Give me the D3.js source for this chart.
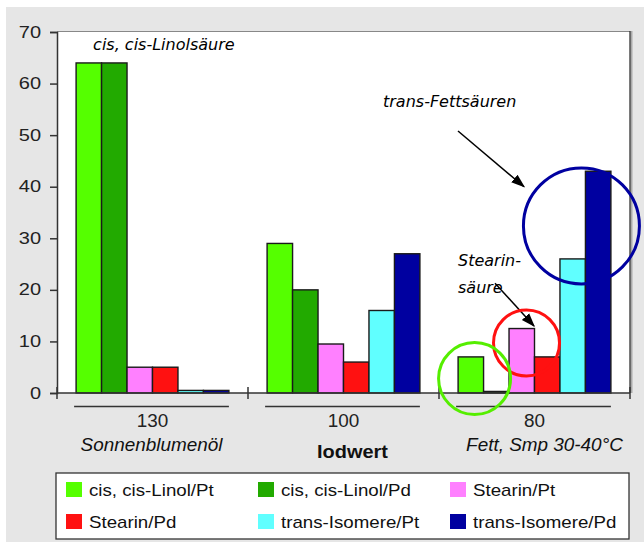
<!DOCTYPE html>
<html>
<head>
<meta charset="utf-8">
<script src="https://cdn.jsdelivr.net/npm/d3@7"></script>
<style>
  body { margin: 0; background: #fff; }
  text { font-family: "Liberation Sans", Arial, sans-serif; }
  .note { font-family: "Comic Sans MS", "DejaVu Sans", sans-serif; font-style: italic; }
</style>
</head>
<body>
<svg id="chart" width="644" height="542"></svg>
<script>
let categories = ['130', '100', '80'];
let subLabels = ['Sonnenblumenöl', 'Iodwert', 'Fett, Smp 30-40°C'];
let seriesNames = ['cis, cis-Linol/Pt', 'cis, cis-Linol/Pd', 'Stearin/Pt', 'Stearin/Pd', 'trans-Isomere/Pt', 'trans-Isomere/Pd'];
let seriesColors = ['#55ff00', '#22aa00', '#ff80ff', '#ff1111', '#60ffff', '#0000a0'];
let linolPt = [64, 29, 7];
let linolPd = [64, 20, 0.3];
let stearinPt = [5, 9.5, 12.5];
let stearinPd = [5, 6, 7];
let transPt = [0.5, 16, 26];
let transPd = [0.5, 27, 43];
let yTicks = [0, 10, 20, 30, 40, 50, 60, 70];

let seriesValues = [linolPt, linolPd, stearinPt, stearinPd, transPt, transPd];

let svg = d3.select('#chart');

// the original picture is a bit wider than the fonts here, so widen text a little
let stretch = (sel, k) => {
  sel.each(function () {
    let w = this.getComputedTextLength();
    d3.select(this).attr('textLength', w * k).attr('lengthAdjust', 'spacingAndGlyphs');
  });
};

// grey panel
svg.append('rect').attr('x', 6).attr('y', 7).attr('width', 638).attr('height', 535).attr('fill', '#e6e6e6');

let plotLeft = 57, plotRight = 630, plotTop = 32, plotBottom = 393;

let x = d3.scaleBand().domain(categories).range([plotLeft, plotRight]).paddingInner(0.2).paddingOuter(0.1);
let xs = d3.scaleBand().domain(seriesNames).range([0, x.bandwidth()]);
let y = d3.scaleLinear().domain([0, 70]).range([plotBottom, plotTop]);

// plot area
svg.append('rect').attr('x', plotLeft).attr('y', plotTop).attr('width', plotRight - plotLeft).attr('height', plotBottom - plotTop).attr('fill', '#fff');
svg.append('line').attr('x1', plotLeft).attr('x2', plotRight).attr('y1', plotTop - 0.5).attr('y2', plotTop - 0.5).attr('stroke', '#888').attr('stroke-width', 1.2);
svg.append('line').attr('x1', plotRight + 1.5).attr('x2', plotRight + 1.5).attr('y1', plotTop - 1).attr('y2', plotBottom).attr('stroke', '#aaa').attr('stroke-width', 2);
svg.append('line').attr('x1', plotRight).attr('x2', plotRight).attr('y1', plotTop - 1).attr('y2', plotBottom).attr('stroke', '#333').attr('stroke-width', 1.3);

// bars
let groups = svg.selectAll('g.grp')
  .data(categories)
  .enter()
  .append('g')
  .attr('class', 'grp')
  .attr('transform', (d) => 'translate(' + x(d) + ',0)');

groups.selectAll('rect')
  .data((d, i) => seriesNames.map((s, j) => ({ s: s, v: seriesValues[j][i], c: seriesColors[j] })))
  .enter()
  .append('rect')
  .attr('x', (d) => xs(d.s))
  .attr('width', xs.bandwidth())
  .attr('y', (d) => y(d.v))
  .attr('height', (d) => y(0) - y(d.v))
  .attr('fill', (d) => d.c)
  .attr('stroke', '#1a1a1a')
  .attr('stroke-width', 1.4);

// y axis
let yAxis = svg.append('g')
  .attr('transform', 'translate(' + plotLeft + ',0)')
  .call(d3.axisLeft(y).tickValues(yTicks).tickSize(7).tickPadding(9));
yAxis.select('.domain').attr('stroke', '#333').attr('stroke-width', 1.5);
yAxis.selectAll('.tick line').attr('stroke', '#333').attr('stroke-width', 1.5);
yAxis.selectAll('.tick text').attr('font-size', 16).attr('fill', '#222').attr('font-family', '"Liberation Sans", Arial, sans-serif');
stretch(yAxis.selectAll('.tick text'), 1.25);

// x axis line + separators at band boundaries
svg.append('line').attr('x1', plotLeft).attr('x2', plotRight).attr('y1', plotBottom).attr('y2', plotBottom).attr('stroke', '#333').attr('stroke-width', 1.5);
let bounds = categories.map((c) => x(c) - x.step() * x.paddingInner() / 2);
bounds.push(plotRight);
svg.selectAll('line.sep')
  .data(bounds)
  .enter()
  .append('line')
  .attr('class', 'sep')
  .attr('x1', (d) => d).attr('x2', (d) => d)
  .attr('y1', plotBottom - 6).attr('y2', plotBottom + 6)
  .attr('stroke', '#333').attr('stroke-width', 1.5);

// category labels
svg.selectAll('line.under')
  .data(categories)
  .enter()
  .append('line')
  .attr('x1', (d) => x(d) - 2).attr('x2', (d) => x(d) + x.bandwidth())
  .attr('y1', 406.5).attr('y2', 406.5)
  .attr('stroke', '#333').attr('stroke-width', 1.3);

let catText = svg.selectAll('text.cat')
  .data(categories)
  .enter()
  .append('text')
  .attr('x', (d) => x(d) + x.bandwidth() / 2)
  .attr('y', 427)
  .attr('text-anchor', 'middle')
  .attr('font-size', 18)
  .attr('fill', '#222')
  .text((d) => d);
stretch(catText, 1.05);

let subShift = [-1, 9, 10];
let subText = svg.selectAll('text.sub')
  .data(subLabels)
  .enter()
  .append('text')
  .attr('x', (d, i) => x(categories[i]) + x.bandwidth() / 2 + subShift[i])
  .attr('y', (d, i) => i === 1 ? 458 : 451)
  .attr('text-anchor', 'middle')
  .attr('font-size', (d, i) => i === 1 ? 19 : 18)
  .attr('font-weight', (d, i) => i === 1 ? 'bold' : 'normal')
  .attr('font-style', (d, i) => i === 1 ? 'normal' : 'italic')
  .attr('fill', '#111')
  .text((d) => d);
stretch(subText, 1.05);

// annotations
svg.append('defs').append('marker')
  .attr('id', 'arrow')
  .attr('viewBox', '0 0 10 10')
  .attr('refX', 9).attr('refY', 5)
  .attr('markerWidth', 9).attr('markerHeight', 9)
  .attr('markerUnits', 'userSpaceOnUse')
  .attr('orient', 'auto')
  .attr('markerWidth', 14).attr('markerHeight', 14)
  .append('path').attr('d', 'M0,1.5 L10,5 L0,8.5 z').attr('fill', '#000');

let barX = (cat, s) => x(cat) + xs(s);

let notes = svg.append('g');
notes.append('text').attr('class', 'note')
  .attr('x', barX('130', seriesNames[0]) + 17).attr('y', y(70) + 18)
  .attr('font-size', 16).text('cis, cis-Linolsäure');

notes.append('text').attr('class', 'note')
  .attr('x', 383).attr('y', y(55.5))
  .attr('font-size', 16).text('trans-Fettsäuren');
svg.append('line')
  .attr('x1', 458).attr('y1', y(50.8)).attr('x2', 524).attr('y2', y(40.0))
  .attr('stroke', '#000').attr('stroke-width', 1.5).attr('marker-end', 'url(#arrow)');

notes.append('text').attr('class', 'note')
  .attr('x', 458).attr('y', y(24.7))
  .attr('font-size', 16).text('Stearin-');
notes.append('text').attr('class', 'note')
  .attr('x', 458).attr('y', y(19.4))
  .attr('font-size', 16).text('säure');
svg.append('line')
  .attr('x1', 495).attr('y1', y(21.3)).attr('x2', 534).attr('y2', y(13.0))
  .attr('stroke', '#000').attr('stroke-width', 1.5).attr('marker-end', 'url(#arrow)');

// circles around the interesting bars
let rings = [
  { cat: '80', s: seriesNames[5], v: 32.4, dx: -4, r: 58, c: '#0000a0' },
  { cat: '80', s: seriesNames[3], v: 9.7, dx: -8, r: 33, c: '#ff1111' },
  { cat: '80', s: seriesNames[1], v: 2.8, dx: -9, r: 36, c: '#55ee00' }
];
svg.selectAll('circle.ring')
  .data(rings)
  .enter()
  .append('circle')
  .attr('cx', (d) => barX(d.cat, d.s) + d.dx)
  .attr('cy', (d) => y(d.v))
  .attr('r', (d) => d.r)
  .attr('fill', 'none')
  .attr('stroke', (d) => d.c)
  .attr('stroke-width', 3);

// legend
let legend = svg.append('g');
legend.append('rect').attr('x', 56).attr('y', 473).attr('width', 573).attr('height', 66)
  .attr('fill', '#fff').attr('stroke', '#333').attr('stroke-width', 1.3);
let items = legend.selectAll('g.item')
  .data(seriesNames)
  .enter()
  .append('g')
  .attr('transform', (d, i) => 'translate(' + (66 + (i % 3) * 192) + ',' + (482 + Math.floor(i / 3) * 32) + ')');
items.append('rect').attr('width', 16).attr('height', 15).attr('fill', (d, i) => seriesColors[i]);
let legText = items.append('text').attr('x', 23).attr('y', 14).attr('font-size', 17).attr('fill', '#111').text((d) => d);
stretch(legText, 1.1);
</script>
</body>
</html>
